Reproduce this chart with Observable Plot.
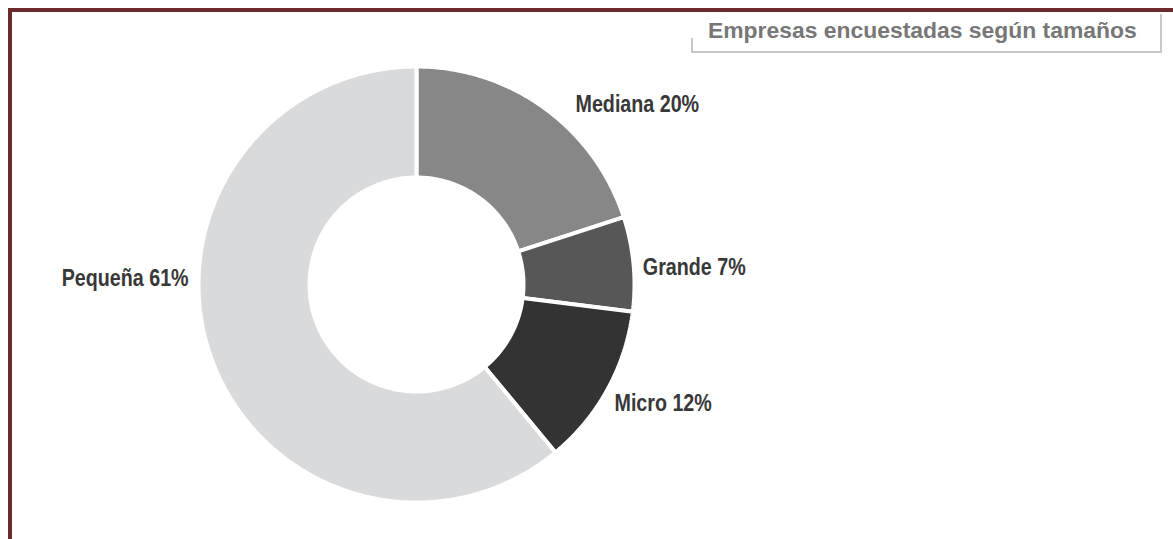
<!DOCTYPE html>
<html>
<head>
<meta charset="utf-8">
<script src="https://cdn.jsdelivr.net/npm/d3@7"></script>
<script src="https://cdn.jsdelivr.net/npm/@observablehq/plot@0.6"></script>
<style>
  html, body { margin: 0; padding: 0; background: #fff; }
  #wrap { position: relative; width: 1173px; height: 539px; overflow: hidden; }
  #frame { position: absolute; left: 8px; top: 8px; width: 1200px; height: 600px;
           border-top: 4px solid #6c2b2b; border-left: 4px solid #6c2b2b; }
  #titlebox { position: absolute; left: 691px; top: 14px; width: 469px; height: 37px;
              border-right: 2px solid #c9c9c9; border-bottom: 2px solid #c9c9c9; }
  #tick { position: absolute; left: 691px; top: 38px; width: 2px; height: 13px; background: #c9c9c9; }
  #title { position: absolute; left: 708px; top: 19px; line-height: 22.5px; white-space: nowrap;
           font-family: "Liberation Sans", Arial, sans-serif; font-weight: bold; font-size: 22.9px; color: #777777; }
  #chart { position: absolute; left: 0; top: 0; }
</style>
</head>
<body>
<div id="wrap">
  <div id="chart"></div>
  <div id="frame"></div>
  <div id="titlebox"></div>
  <div id="tick"></div>
  <div id="title">Empresas encuestadas según tamaños</div>
</div>
<script>
// ---- data ----
const categories = ["Mediana", "Grande", "Micro", "Pequeña"];
const shares = [20, 7, 12, 61];
const colors = ["#878787", "#575757", "#333333", "#d9dadc"];
const labels = ["Mediana 20%", "Grande 7%", "Micro 12%", "Pequeña 61%"];

// ---- geometry (layout) ----
const W = 1173, H = 539;
const cx = 416, cy = 284;          // donut centre in pixels
const rOuter = 218, rInner = 107;
// label placement: polar angle (deg, clockwise from top) and distance
const labelPlace = {
  "Mediana": [41.5, 240, "start"],
  "Grande": [85.7, 227, "start"],
  "Micro": [121, 231, "start"],
  "Pequeña": [271.5, 228, "end"]
};

const total = d3.sum(shares);
const toRad = Math.PI / 180;
const slices = [];
let acc = 0;
categories.forEach((c, i) => {
  const a0 = acc / total * 360, a1 = (acc + shares[i]) / total * 360;
  acc += shares[i];
  const n = Math.max(4, Math.ceil(a1 - a0));
  const pts = [];
  for (let k = 0; k <= n; k++) {
    const a = (a0 + (a1 - a0) * k / n) * toRad;
    pts.push({cat: c, x: rOuter * Math.sin(a), y: rOuter * Math.cos(a)});
  }
  for (let k = n; k >= 0; k--) {
    const a = (a0 + (a1 - a0) * k / n) * toRad;
    pts.push({cat: c, x: rInner * Math.sin(a), y: rInner * Math.cos(a)});
  }
  slices.push(...pts);
});

const labelData = categories.map((c, i) => {
  const [ang, dist, anchor] = labelPlace[c];
  return {cat: c, text: labels[i], x: dist * Math.sin(ang * toRad), y: dist * Math.cos(ang * toRad), anchor};
});

const font = '"Liberation Sans", Arial, sans-serif';

const chart = Plot.plot({
  width: W, height: H,
  margin: 0,
  x: {domain: [-cx, W - cx], axis: null},
  y: {domain: [-(H - cy), cy], axis: null},
  color: {domain: categories, range: colors},
  style: {background: "transparent"},
  marks: [
    Plot.line(slices, {x: "x", y: "y", z: "cat", fill: "cat", stroke: "white", strokeWidth: 4,
      curve: "linear-closed", strokeLinejoin: "miter"}),
    Plot.text(labelData.filter(d => d.anchor === "start"), {x: "x", y: "y", text: "text", textAnchor: "start",
      fontSize: 24, fontWeight: "bold", fill: "#383838", fontFamily: font, className: "lbl"}),
    Plot.text(labelData.filter(d => d.anchor === "end"), {x: "x", y: "y", text: "text", textAnchor: "end",
      fontSize: 24, fontWeight: "bold", fill: "#383838", fontFamily: font, className: "lbl"})
  ]
});
document.getElementById("chart").appendChild(chart);
// condense the label glyphs (narrow typeface look)
d3.select(chart).selectAll("text").each(function () {
  const len = this.getComputedTextLength();
  if (len > 0) {
    this.setAttribute("textLength", (len * 0.82).toFixed(1));
    this.setAttribute("lengthAdjust", "spacingAndGlyphs");
  }
});
</script>
</body>
</html>
